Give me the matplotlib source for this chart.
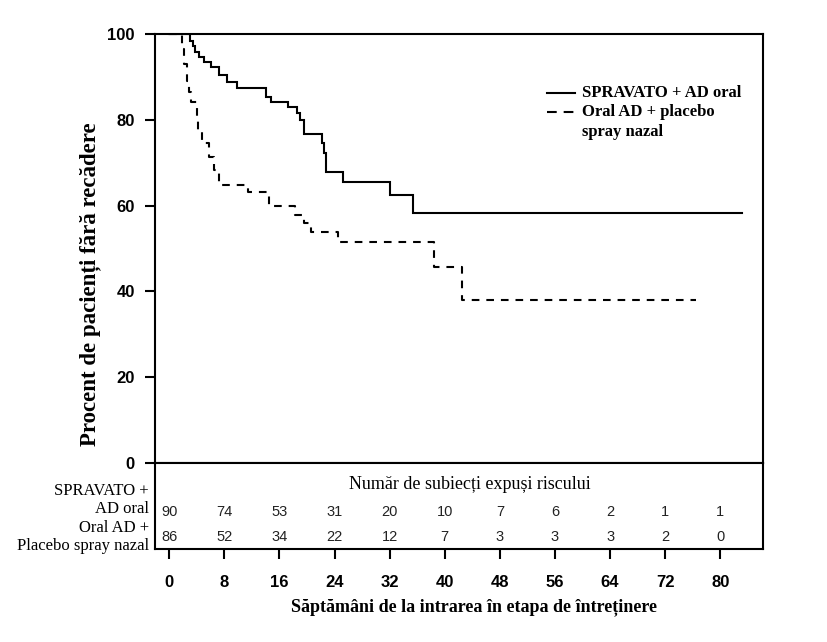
import matplotlib
matplotlib.use("Agg")
import matplotlib.pyplot as plt

plt.rcParams['lines.scale_dashes'] = False

# --- Data ---
weeks_ticks = [0, 8, 16, 24, 32, 40, 48, 56, 64, 72, 80]
yticks = [0, 20, 40, 60, 80, 100]

spr_times = [0, 3.0, 3.4, 3.8, 4.3, 5.0, 6.0, 7.2, 8.4, 9.9, 14.0, 14.8, 17.3, 18.6, 19.0, 19.6, 22.2, 22.5, 22.8, 25.2, 32.0, 35.4]
spr_surv  = [100, 98.4, 97.1, 95.9, 94.7, 93.5, 92.4, 90.4, 88.9, 87.3, 85.4, 84.2, 82.9, 81.5, 79.9, 76.8, 74.5, 72.2, 67.9, 65.6, 62.5, 58.2]
spr_end = 83.2

pla_times = [0, 1.85, 2.2, 2.6, 2.9, 3.1, 4.0, 4.2, 4.75, 5.7, 6.5, 7.2, 11.4, 14.5, 18.2, 19.6, 20.6, 24.5, 38.5, 42.5]
pla_surv  = [100, 96.5, 93.0, 89.0, 86.5, 84.2, 80.7, 77.6, 74.5, 71.4, 68.3, 64.8, 63.2, 59.8, 57.8, 55.9, 53.8, 51.4, 45.8, 38.1]
pla_end = 76.4

risk_spr = [90, 74, 53, 31, 20, 10, 7, 6, 2, 1, 1]
risk_pla = [86, 52, 34, 22, 12, 7, 3, 3, 3, 2, 0]

label_spr = "SPRAVATO + AD oral"
label_pla = "Oral AD + placebo"
label_pla2 = "spray nazal"
ylabel = "Procent de pacienți fără recădere"
xlabel = "Săptămâni de la intrarea în etapa de întreținere"
risk_header = "Număr de subiecți expuși riscului"
row_lab1 = "SPRAVATO +\nAD oral"
row_lab2 = "Oral AD +\nPlacebo spray nazal"

SERIF = ['Liberation Serif', 'DejaVu Serif']
SANS = ['Liberation Sans', 'DejaVu Sans']

fig = plt.figure(figsize=(8.28, 6.42), dpi=100)
W, H = 828, 642
left, right = 155.5 / W, 763 / W
top_main, bot_main, bot_tab = 1 - 34 / H, 1 - 463 / H, 1 - 549 / H
ax = fig.add_axes([left, bot_main, right - left, top_main - bot_main])
tab = fig.add_axes([left, bot_tab, right - left, bot_main - bot_tab])

xlim = (-2.0, 86.2)
lw = 1.5

# curves
ax.step(spr_times + [spr_end], spr_surv + [spr_surv[-1]], where='post', color='black', lw=lw, solid_joinstyle='miter')
ax.step(pla_times + [pla_end], pla_surv + [pla_surv[-1]], where='post', color='black', lw=lw,
        linestyle=(0, (5.5, 5.0)))

ax.set_xlim(*xlim)
ax.set_ylim(0, 100)
ax.set_yticks(yticks)
ax.set_yticklabels([str(v) for v in yticks], fontfamily=SANS, fontweight='bold', fontsize=12)
ax.tick_params(axis='y', direction='out', length=7, width=lw, pad=8)
ax.tick_params(axis='x', bottom=False, labelbottom=False)
for s in ax.spines.values():
    s.set_linewidth(lw)
    s.set_color('black')

# legend drawn manually in axes coordinates
tr = ax.transAxes
ax.plot([0.644, 0.690], [0.862, 0.862], transform=tr, color='black', lw=lw)
ax.plot([0.644, 0.690], [0.818, 0.818], transform=tr, color='black', lw=lw, linestyle=(0, (7, 5)))
lkw = dict(transform=tr, fontfamily=SERIF, fontweight='bold', fontsize=12, va='center', ha='left')
ax.text(0.702, 0.862, label_spr, **lkw)
ax.text(0.702, 0.818, label_pla, **lkw)
ax.text(0.702, 0.772, label_pla2, **lkw)

# risk table
tab.set_xlim(*xlim)
tab.set_ylim(0, 1)
tab.set_yticks([])
tab.set_xticks(weeks_ticks)
tab.set_xticklabels([str(v) for v in weeks_ticks], fontfamily=SANS, fontweight='bold', fontsize=12)
tab.tick_params(axis='x', direction='out', length=7, width=lw, pad=12)
for s in tab.spines.values():
    s.set_linewidth(lw)
    s.set_color('black')
for x, a, b in zip(weeks_ticks, risk_spr, risk_pla):
    tab.text(x, 0.434, str(a), ha='center', va='center', fontfamily=SANS, fontsize=10.5, color='#222222')
    tab.text(x, 0.143, str(b), ha='center', va='center', fontfamily=SANS, fontsize=10.5, color='#222222')
tab.text(43.6, 0.75, risk_header, ha='center', va='center', fontfamily=SERIF, fontsize=13)
fig.text(149 / W, 1 - 500 / H, row_lab1, ha='right', va='center', fontfamily=SERIF, fontsize=12, linespacing=1.2)
fig.text(149 / W, 1 - 537 / H, row_lab2, ha='right', va='center', fontfamily=SERIF, fontsize=12, linespacing=1.2)

fig.text(90 / W, 1 - 284 / H, ylabel, rotation=90, ha='center', va='center', fontfamily=SERIF, fontweight='bold', fontsize=16.5)
fig.text(474 / W, 1 - 607 / H, xlabel, ha='center', va='center', fontfamily=SERIF, fontweight='bold', fontsize=13)

fig.savefig('out.png', dpi=100)
